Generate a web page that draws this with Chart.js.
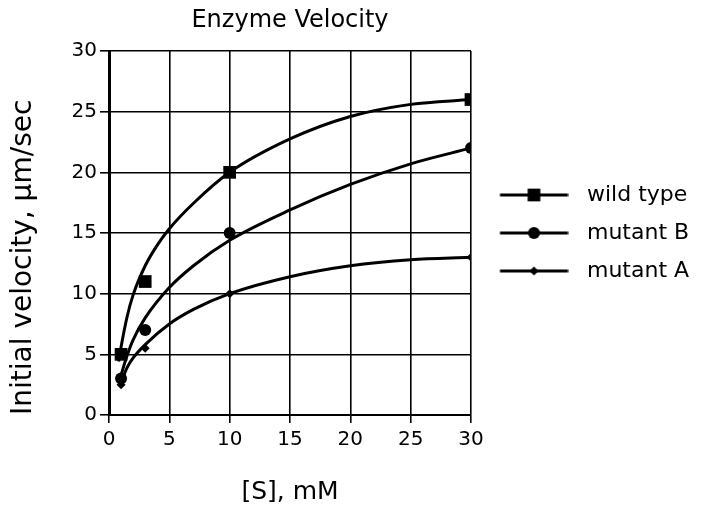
<!DOCTYPE html>
<html>
<head>
<meta charset="utf-8">
<script src="https://cdn.jsdelivr.net/npm/chart.js@4/dist/chart.umd.min.js"></script>
<style>
  body { margin: 0; background: #fff; }
</style>
</head>
<body>
<canvas id="enzyme-chart" width="701" height="508"></canvas>
<script>
// measured points
const substrate = [1, 3, 10, 30];
const wildType = [5, 11, 20, 26];
const mutantB = [3, 7, 15, 22];
const mutantA = [2.5, 5.5, 10, 13];

// fitted curves
const wildCurveX = [0.8, 1, 1.5, 2, 3, 4, 5, 7, 10, 15, 20, 25, 30];
const wildCurveY = [4.4, 5.6, 8.1, 9.9, 12.3, 14.0, 15.35, 17.45, 20, 22.75, 24.6, 25.6, 26];
const mutBCurveX = [1, 1.5, 2, 3, 5, 7, 10, 15, 20, 25, 30];
const mutBCurveY = [3.3, 4.9, 6.2, 8.0, 10.5, 12.3, 14.4, 16.9, 19, 20.7, 22];
const mutACurveX = [1, 1.5, 2, 3, 5, 7, 10, 15, 20, 25, 30];
const mutACurveY = [2.7, 3.9, 4.7, 5.8, 7.5, 8.7, 10, 11.4, 12.3, 12.8, 13];

const xTicks = [0, 5, 10, 15, 20, 25, 30];
const yTicks = [0, 5, 10, 15, 20, 25, 30];

const labels = ["wild type", "mutant B", "mutant A"];
const FONT = "'DejaVu Sans', Verdana, sans-serif";
const LEGEND_WIDTH = 230;

function toPoints(xs, ys) {
  return xs.map((x, i) => ({x: x, y: ys[i]}));
}

// little line + marker picture for the legend
function legendIcon(style, radius) {
  const c = document.createElement("canvas");
  c.width = 74;
  c.height = 18;
  const ctx = c.getContext("2d");
  ctx.strokeStyle = "#000";
  ctx.fillStyle = "#000";
  ctx.lineWidth = 3;
  ctx.beginPath();
  ctx.moveTo(5.5, 9);
  ctx.lineTo(73.5, 9);
  ctx.stroke();
  Chart.helpers.drawPoint(ctx, {pointStyle: style, radius: radius, rotation: 0, borderWidth: 0}, 39.5, 9);
  return c;
}

function curve(xs, ys) {
  return {
    data: toPoints(xs, ys),
    showLine: true,
    borderColor: "#000",
    borderWidth: 3,
    pointRadius: 0,
    cubicInterpolationMode: "monotone",
    fill: false,
    isCurve: true
  };
}

function markers(label, ys, style, radius) {
  return {
    label: label,
    data: toPoints(substrate, ys),
    showLine: false,
    pointStyle: style,
    pointRadius: radius,
    pointBackgroundColor: "#000",
    pointBorderColor: "#000",
    pointBorderWidth: 0,
    icon: legendIcon(style, radius)
  };
}

// the legend is normally capped at a quarter of the canvas width
const wideLegend = {
  id: "wideLegend",
  beforeUpdate(chart) {
    const legend = chart.legend;
    if (legend && !legend._wide) {
      const fit = legend.fit;
      legend.fit = function() {
        fit.call(this);
        this.width = LEGEND_WIDTH;
      };
      legend._wide = true;
    }
  }
};

function enzymeChart() {
  const ctx = document.getElementById("enzyme-chart");

  new Chart(ctx, {
    type: "scatter",
    data: {
      datasets: [
        curve(wildCurveX, wildCurveY),
        curve(mutBCurveX, mutBCurveY),
        curve(mutACurveX, mutACurveY),
        markers(labels[0], wildType, "rect", 9),
        markers(labels[1], mutantB, "circle", 6),
        markers(labels[2], mutantA, "rectRot", 4.5)
      ]
    },
    plugins: [wideLegend],
    options: {
      responsive: false,
      animation: false,
      layout: {padding: 0},
      plugins: {
        title: {
          display: true,
          text: "Enzyme Velocity",
          color: "#000",
          fullSize: false,
          font: {family: FONT, size: 24, weight: "normal"},
          padding: {top: 6, bottom: 16.2}
        },
        legend: {
          position: "right",
          fullSize: false,
          labels: {
            color: "#000",
            font: {family: FONT, size: 22},
            usePointStyle: true,
            pointStyleWidth: 89,
            padding: 16,
            generateLabels: function(chart) {
              return chart.data.datasets
                .map((ds, i) => ({ds: ds, i: i}))
                .filter(o => !o.ds.isCurve)
                .map(o => ({
                  text: o.ds.label,
                  pointStyle: o.ds.icon,
                  fillStyle: "#000",
                  strokeStyle: "#000",
                  lineWidth: 0,
                  fontColor: "#000",
                  datasetIndex: o.i
                }));
            }
          }
        },
        tooltip: {enabled: false}
      },
      scales: {
        x: {
          type: "linear",
          min: 0,
          max: 30,
          afterBuildTicks: axis => { axis.ticks = xTicks.map(v => ({value: v})); },
          afterFit: axis => { axis.height = 93; },
          grid: {color: "#000", lineWidth: 1.6, tickLength: 8},
          border: {color: "#000", width: 2},
          ticks: {color: "#000", font: {family: FONT, size: 20}, padding: 5, maxRotation: 0},
          title: {
            display: true,
            text: "[S], mM",
            color: "#000",
            font: {family: FONT, size: 25},
            padding: {top: 0, bottom: 0.5}
          }
        },
        y: {
          type: "linear",
          min: 0,
          max: 30,
          afterBuildTicks: axis => { axis.ticks = yTicks.map(v => ({value: v})); },
          afterFit: axis => { axis.width = 109; },
          grid: {color: "#000", lineWidth: 1.6, tickLength: 9},
          border: {color: "#000", width: 3},
          ticks: {color: "#000", font: {family: FONT, size: 20}, padding: 3},
          title: {
            display: true,
            text: "Initial velocity, μm/sec",
            align: "start",
            color: "#000",
            font: {family: FONT, size: 28},
            padding: {top: 6.5, bottom: 0}
          }
        }
      }
    }
  });
}

window.addEventListener("load", enzymeChart);
</script>
</body>
</html>
